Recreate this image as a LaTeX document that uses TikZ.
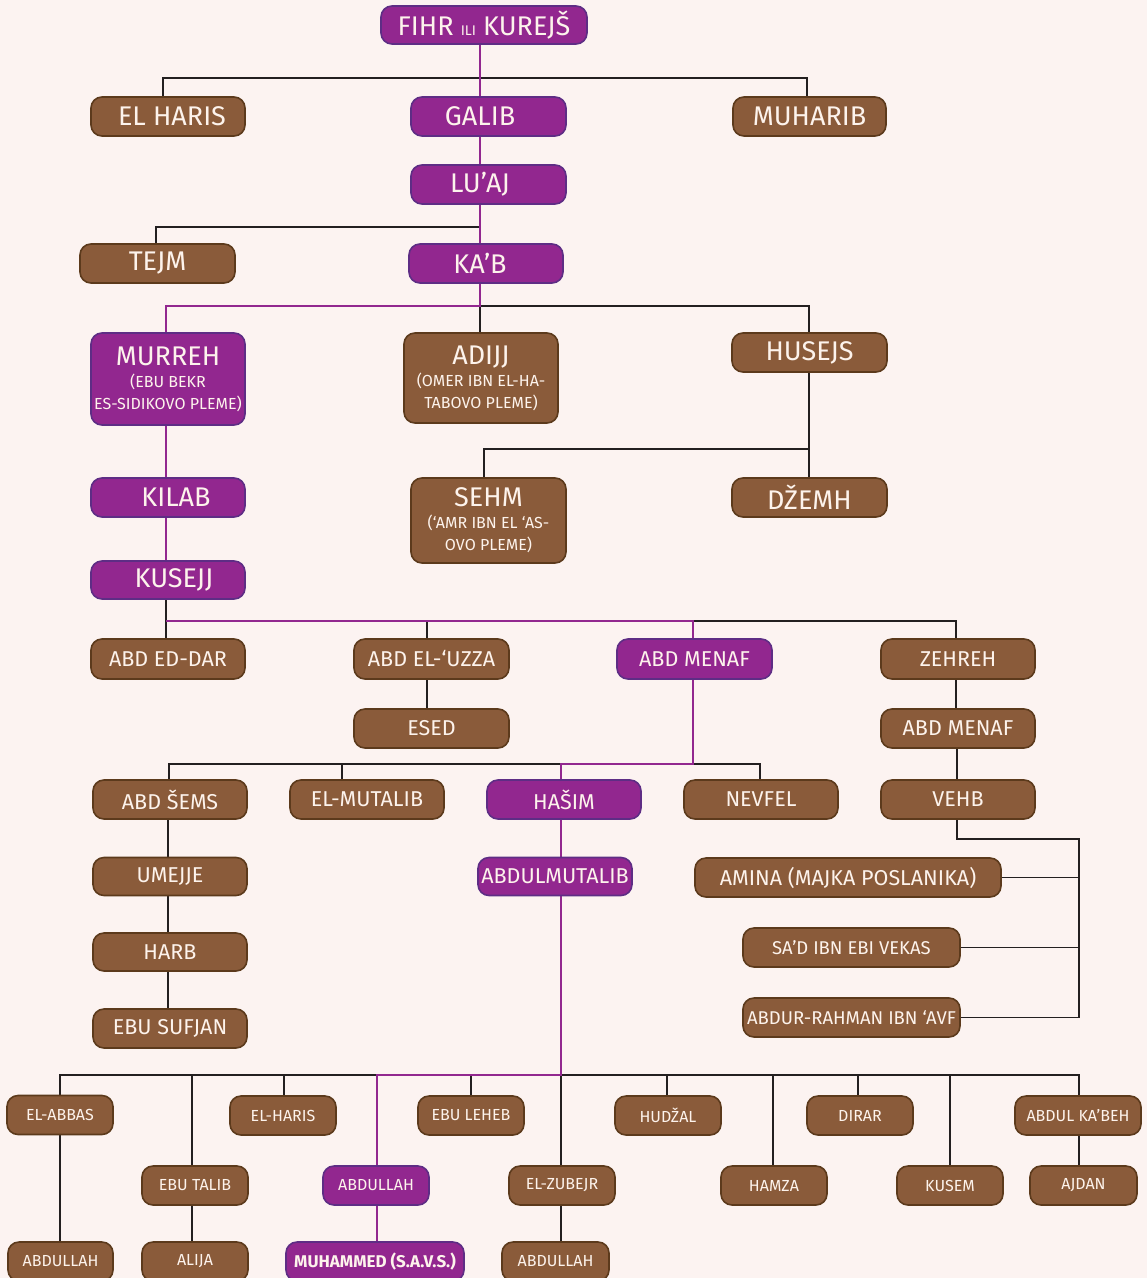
\documentclass[tikz,border=0pt]{standalone}
\usepackage{fontspec}
\setmainfont{Fira Sans}
\usetikzlibrary{backgrounds}
\definecolor{bg}{HTML}{FCF3F1}
\definecolor{bfill}{HTML}{8A5B3A}
\definecolor{bline}{HTML}{5C3A1C}
\definecolor{pfill}{HTML}{92278F}
\definecolor{pline}{HTML}{5E2D85}
\definecolor{lcol}{HTML}{231F20}
\definecolor{tcol}{HTML}{FDF3EC}
\tikzset{
 nb/.style={draw=bline, fill=bfill, line width=1.6pt, rounded corners=11pt, text=tcol, inner sep=0pt, align=center},
 np/.style={nb, draw=pline, fill=pfill},
 lk/.style={draw=lcol, line width=1.6pt},
 lp/.style={draw=pfill, line width=2.2pt},
 fB/.style={font=\fontsize{27}{29}\selectfont},
 fM/.style={font=\fontsize{21.5}{23}\selectfont},
 fS/.style={font=\fontsize{16}{18}\selectfont},
 fN/.style={font=\fontsize{16}{22}\selectfont},
}
\newcommand\mybox[7]{\node[#1, minimum width=#5pt, minimum height=#6pt] (#2) at (#3,#4) {#7};}
\begin{document}
\begin{tikzpicture}[x=1pt,y=-1pt]
\useasboundingbox (0,0) rectangle (1147,1278);
% ---------- nodes
\mybox{np,fB}{fihr}{484}{25}{206}{38}{FIHR {\fontsize{14}{14}\selectfont ILI} KUREJŠ}
\mybox{nb,fB}{elharis}{168}{116.5}{154}{39}{\hspace*{8pt}EL HARIS}
\mybox{np,fB}{galib}{488.5}{116.5}{155}{39}{GALIB\hspace*{17pt}}
\mybox{nb,fB}{muharib}{809.5}{116.5}{153}{39}{MUHARIB}
\mybox{np,fB}{luaj}{488.5}{184.5}{155}{39}{LU’AJ\hspace*{17pt}}
\mybox{nb,fB}{tejm}{157.5}{263.5}{155}{39}{TEJM}
\mybox{np,fB}{kab}{486}{263.5}{154}{39}{KA’B\hspace*{12pt}}
\mybox{np,fN}{murreh}{168}{379}{154}{92}{{\fontsize{27}{27}\selectfont MURREH}\\(EBU BEKR\\ES-SIDIKOVO PLEME)}
\mybox{nb,fN}{adijj}{481}{378}{154}{90}{{\fontsize{27}{27}\selectfont ADIJJ}\\(OMER IBN EL-HA-\\TABOVO PLEME)}
\mybox{nb,fB}{husejs}{809.5}{352.5}{155}{39}{HUSEJS}
\mybox{np,fB}{kilab}{168}{497.5}{154}{39}{\hspace*{16pt}KILAB}
\mybox{np,fB}{kusejj}{168}{580}{154}{38}{\hspace*{12pt}KUSEJJ}
\mybox{nb,fN}{sehm}{488.5}{520.5}{155}{85}{{\fontsize{27}{27}\selectfont SEHM}\\(‘AMR IBN  EL ‘AS-\\OVO PLEME)}
\mybox{nb,fB}{dzemh}{809.5}{497.5}{155}{39}{DŽEMH}
\mybox{nb,fM}{abdeddar}{168}{659}{154}{40}{ABD ED-DAR}
\mybox{nb,fM}{abduzza}{431.5}{659}{155}{40}{ABD EL-‘UZZA}
\mybox{np,fM}{abdmenafa}{694.5}{659}{155}{40}{ABD MENAF}
\mybox{nb,fM}{zehreh}{958}{659}{154}{40}{ZEHREH}
\mybox{nb,fM}{esed}{431.5}{728.5}{155}{39}{ESED}
\mybox{nb,fM}{abdmenafb}{958}{728.5}{154}{39}{ABD MENAF}
\mybox{nb,fM}{vehb}{958}{799.5}{154}{39}{VEHB}
\mybox{nb,fM}{abdsems}{170}{799.5}{154}{39}{ABD ŠEMS}
\mybox{nb,fM}{elmutalib}{367}{799.5}{154}{39}{EL-MUTALIB}
\mybox{np,fM}{hasim}{564}{799.5}{154}{39}{HAŠIM}
\mybox{nb,fM}{nevfel}{761}{799.5}{154}{39}{NEVFEL}
\mybox{nb,fM}{umejje}{170}{876.5}{154}{38}{UMEJJE}
\mybox{nb,fM}{harb}{170}{952}{154}{38}{HARB}
\mybox{nb,fM}{ebusufjan}{170}{1028.5}{154}{39}{EBU SUFJAN}
\mybox{np,fM}{abdulmutalib}{555}{876.5}{154}{38}{ABDULMUTALIB}
\mybox{nb,fM}{amina}{848}{877.5}{306}{39}{AMINA (MAJKA POSLANIKA)}
\mybox{nb,font=\fontsize{18.5}{20}\selectfont}{sad}{851.5}{947.5}{217}{39}{SA’D IBN EBI VEKAS}
\mybox{nb,font=\fontsize{18.5}{20}\selectfont}{abdur}{851.5}{1017.5}{217}{39}{ABDUR-RAHMAN IBN ‘AVF}
% bottom rows
\mybox{nb,fS}{elabbas}{60}{1115}{106}{39}{EL-ABBAS}
\mybox{nb,fS}{elharisb}{283}{1115.5}{106}{39}{EL-HARIS}
\mybox{nb,fS}{ebuleheb}{471}{1115.5}{106}{39}{EBU LEHEB}
\mybox{nb,fS}{hudzal}{668}{1115.5}{106}{39}{HUDŽAL}
\mybox{nb,fS}{dirar}{860}{1115.5}{106}{39}{DIRAR}
\mybox{nb,fS}{abdulkabeh}{1078}{1115.5}{126}{39}{ABDUL KA’BEH}
\mybox{nb,fS}{ebutalib}{195}{1185.5}{106}{39}{EBU TALIB}
\mybox{np,fS}{abdullaha}{376}{1185.5}{106}{39}{ABDULLAH}
\mybox{nb,fS}{elzubejr}{562}{1185.5}{106}{39}{EL-ZUBEJR}
\mybox{nb,fS}{hamza}{774}{1185.5}{106}{39}{HAMZA}
\mybox{nb,fS}{kusem}{950}{1185.5}{106}{39}{KUSEM}
\mybox{nb,fS}{ajdan}{1083.5}{1185.5}{107}{39}{AJDAN}
\mybox{nb,fS}{abdullahb}{60.5}{1261.5}{105}{39}{ABDULLAH}
\mybox{nb,fS}{alija}{195}{1261.5}{106}{39}{ALIJA}
\mybox{np,font=\fontsize{17}{18}\selectfont\bfseries}{muhammed}{375}{1261.5}{178}{39}{MUHAMMED (S.A.V.S.)}
\mybox{nb,fS}{abdullahc}{555.5}{1261.5}{107}{39}{ABDULLAH}
% ---------- junction coordinates
\coordinate (c1) at (480,78);
\coordinate (c2) at (480,227);
\coordinate (c3) at (480,306);
\coordinate (c4) at (809,449);
\coordinate (c5) at (166,621);
\coordinate (c6) at (693,621);
\coordinate (c7) at (693,764);
\coordinate (c8) at (561,764);
\coordinate (c9) at (957,839);
\coordinate (c10) at (1079,839);
\coordinate (c11) at (561,1075);
\coordinate (c12) at (377,1075);
\begin{scope}[on background layer]
\fill[bg] (0,0) rectangle (1147,1278);
% ---------- black connectors
\draw[lk] ([xshift=-5]elharis.north) |- (c1) -| ([xshift=-2.5]muharib.north);
\draw[lk] ([xshift=-1.5]tejm.north) |- (c2);
\draw[lk] (c3) -| ([xshift=-0.5]husejs.north);
\draw[lk] (c3) -- (adijj.north -| c3);
\draw[lk] ([xshift=-0.5]husejs.south) -- ([xshift=-0.5]dzemh.north);
\draw[lk] ([xshift=-4.5]sehm.north) |- (c4);
\draw[lk] (kusejj.south -| c5) -- (abdeddar.north -| c5);
\draw[lk] ([xshift=-4.5]abduzza.north) |- (c6);
\draw[lk] (c6) -| ([xshift=-2]zehreh.north);
\draw[lk] ([xshift=-4.5]abduzza.south) -- ([xshift=-4.5]esed.north);
\draw[lk] ([xshift=-2]zehreh.south) -- ([xshift=-2]abdmenafb.north);
\draw[lk] ([xshift=-1]abdmenafb.south) -- ([xshift=-1]vehb.north);
\draw[lk] ([xshift=-1]abdsems.north) |- (c8);
\draw[lk] ([xshift=-25]elmutalib.north) |- (c8);
\draw[lk] (c7) -| ([xshift=-1]nevfel.north);
\draw[lk] ([xshift=-2]abdsems.south) -- ([xshift=-2]umejje.north);
\draw[lk] ([xshift=-2]umejje.south) -- ([xshift=-2]harb.north);
\draw[lk] ([xshift=-2]harb.south) -- ([xshift=-2]ebusufjan.north);
\draw[lk] (vehb.south -| c9) -- (c9) -- (c10) -- (abdur.east -| c10) -- (abdur.east);
\draw[lk] (amina.east) -- (amina.east -| c10);
\draw[lk] (sad.east) -- (sad.east -| c10);
\draw[lk] (elabbas.north) |- (c11) -| (abdulkabeh.north -| c10);
\draw[lk] ([xshift=-3]ebutalib.north) |- (c11);
\draw[lk] ([xshift=1]elharisb.north) |- (c11);
\draw[lk] (ebuleheb.north) |- (c11);
\draw[lk] (elzubejr.north -| c11) -- (c11);
\draw[lk] ([xshift=-1]hudzal.north) |- (c11);
\draw[lk] ([xshift=-1]hamza.north) |- (c11);
\draw[lk] ([xshift=-2]dirar.north) |- (c11);
\draw[lk] (kusem.north) |- (c11);
\draw[lk] (elabbas.south) -- (elabbas.south |- abdullahb.north);
\draw[lk] ([xshift=-3]ebutalib.south) -- ([xshift=-3]alija.north);
\draw[lk] (elzubejr.south -| c11) -- (abdullahc.north -| c11);
\draw[lk] (abdulkabeh.south -| c10) -- (ajdan.north -| c10);
% ---------- purple connectors
\draw[lp] (fihr.south -| c1) -- (galib.north -| c1);
\draw[lp] (galib.south -| c1) -- (luaj.north -| c1);
\draw[lp] (luaj.south -| c1) -- (kab.north -| c1);
\draw[lp] (kab.south -| c1) -- (c3) -| (murreh.north -| c5);
\draw[lp] (murreh.south -| c5) -- (kilab.north -| c5);
\draw[lp] (kilab.south -| c5) -- (kusejj.north -| c5);
\draw[lp] (c5) -- (c6) -- (abdmenafa.north -| c6);
\draw[lp] (abdmenafa.south -| c6) -- (c7) -- (c8) -- (hasim.north -| c8);
\draw[lp] (hasim.south -| c8) -- (abdulmutalib.north -| c8);
\draw[lp] (abdulmutalib.south -| c8) -- (c11) -- (c12) -- (abdullaha.north -| c12);
\draw[lp] (abdullaha.south -| c12) -- (muhammed.north -| c12);
\end{scope}
\end{tikzpicture}
\end{document}
